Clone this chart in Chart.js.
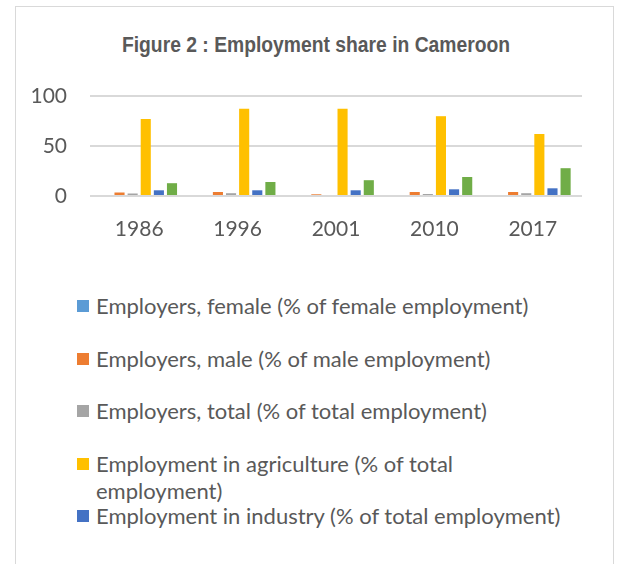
<!DOCTYPE html>
<html>
<head>
<meta charset="utf-8">
<script src="https://cdn.jsdelivr.net/npm/chart.js@4"></script>
<style>
  html, body { margin: 0; padding: 0; background: #fff; overflow: hidden; }
  body { width: 622px; height: 564px; position: relative; }
  #frame { position: absolute; left: 15px; top: 6px; width: 599px; height: 600px; border: 1px solid #d9d9d9; box-sizing: border-box; }
  #title { position: absolute; left: 316px; top: 34px; white-space: nowrap; line-height: 22px; transform: translateX(-50%) scaleX(0.877);
           font-family: "Liberation Sans", Arial, sans-serif; font-weight: bold; font-size: 22px; color: #595959; }
  #wrap { position: absolute; left: 15px; top: 6px; width: 600px; height: 250px; }
  #legend { position: absolute; left: 77px; top: 292px; height: 242px; width: 520px; overflow: hidden; font-family: Lato, sans-serif; font-size: 22px; color: #595959; }
  .item { position: relative; height: 52.5px; padding-left: 19px; line-height: 27px; white-space: pre-line; }
  .box { position: absolute; left: 0; top: 8px; width: 12px; height: 12px; }
</style>
</head>
<body>
<div id="frame"></div>
<div id="title">Figure 2 : Employment share in Cameroon</div>
<div id="wrap"><canvas id="chart"></canvas></div>
<div id="legend"></div>
<script>
const years = ['1986', '1996', '2001', '2010', '2017'];
const seriesNames = [
  'Employers, female (% of female employment)',
  'Employers, male (% of male employment)',
  'Employers, total (% of total employment)',
  'Employment in agriculture (% of total\nemployment)',
  'Employment in industry (% of total employment)',
  'Employment in services (% of total employment)'
];
const colors = ['#5b9bd5', '#ed7d31', '#a5a5a5', '#ffc000', '#4472c4', '#70ad47'];

const employersFemale = [0, 0, 0, 0, 0];
const employersMale = [3.5, 4, 1.7, 4, 4];
const employersTotal = [2.5, 2.8, 0, 2, 2.8];
const agriculture = [77, 87.3, 87.3, 79.8, 62];
const industry = [5.7, 5.7, 5.7, 6.7, 7.7];
const services = [12.8, 14, 15.8, 19, 27.8];

const values = [employersFemale, employersMale, employersTotal, agriculture, industry, services];

const datasets = values.map((v, i) => ({
  label: seriesNames[i],
  data: v,
  backgroundColor: colors[i],
  barPercentage: 0.77,
  categoryPercentage: 0.8
}));

new Chart(document.getElementById('chart'), {
  type: 'bar',
  data: { labels: years, datasets: datasets },
  options: {
    responsive: true,
    maintainAspectRatio: false,
    animation: false,
    layout: { padding: { left: 0, right: 33, top: 90, bottom: 10 } },
    plugins: {
      legend: { display: false },
      tooltip: { enabled: false }
    },
    scales: {
      x: {
        grid: { display: false },
        border: { display: false },
        ticks: { color: '#595959', font: { family: 'Lato', size: 21 }, padding: 13 },
        afterFit: (scale) => { scale.height = 50; }
      },
      y: {
        min: 0,
        max: 100,
        grid: { color: '#d9d9d9', lineWidth: 2, drawTicks: false },
        border: { display: false },
        ticks: { stepSize: 50, color: '#595959', font: { family: 'Lato', size: 21 }, padding: 23 },
        afterFit: (scale) => { scale.width = 75; }
      }
    }
  }
});

// legend built from the same names and colours
const legend = document.getElementById('legend');
seriesNames.forEach((name, i) => {
  const item = document.createElement('div');
  item.className = 'item';
  const box = document.createElement('span');
  box.className = 'box';
  box.style.background = colors[i];
  item.appendChild(box);
  item.appendChild(document.createTextNode(name));
  legend.appendChild(item);
});
</script>
</body>
</html>
